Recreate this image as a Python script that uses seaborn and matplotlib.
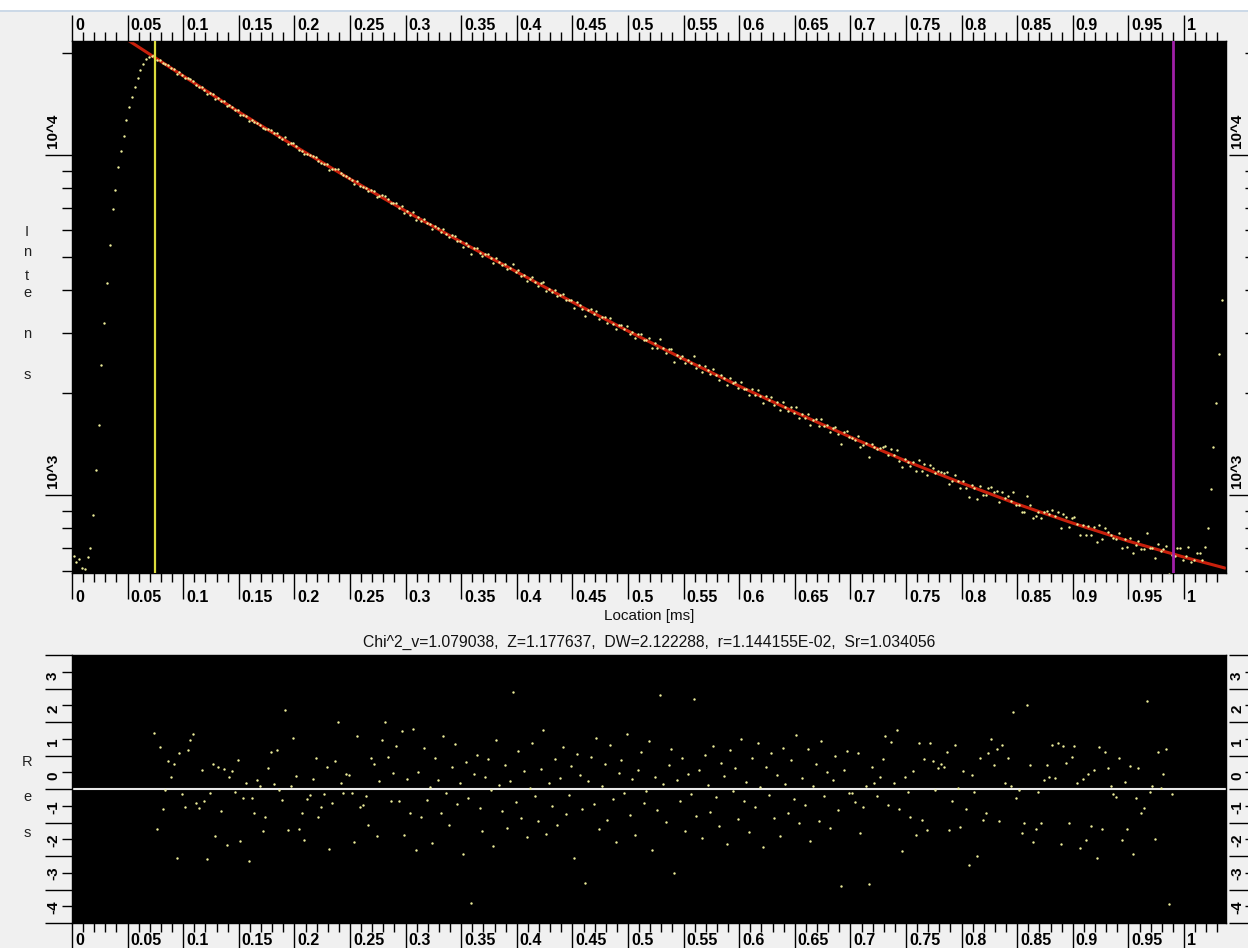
import numpy as np
import pandas as pd
import matplotlib
matplotlib.use("Agg")
import matplotlib.pyplot as plt
import matplotlib.transforms as mtrans
from matplotlib.patches import Rectangle
from matplotlib.lines import Line2D
from matplotlib.ticker import FixedLocator, MultipleLocator, LogLocator, NullFormatter
import seaborn as sns

# ---------------- data ----------------
channel_start_ms = 0.0015
channel_width_ms = 0.0025

intensity_counts = [
    662, 635, 648, 610, 606, 657, 699, 873, 1185, 1607,
    2412, 3205, 4202, 5437, 6937, 7890, 9220, 10270, 11370, 12680,
    13840, 14810, 15850, 16850, 17780, 18520, 19160, 19420, 19550, 19690,
    18987, 19081, 18607, 18455, 18353, 18070, 17900, 17307, 17511, 17140,
    16881, 16894, 16728, 16552, 16092, 15877, 15827, 15520, 15116, 15174,
    15098, 14653, 14725, 14389, 14363, 13922, 13992, 13842, 13603, 13547,
    13112, 13108, 13009, 12595, 12662, 12465, 12434, 12272, 11982, 11891,
    11912, 11829, 11592, 11566, 11308, 11146, 11301, 10799, 10811, 10835,
    10599, 10319, 10251, 10055, 10066, 9967, 9904, 9854, 9572, 9495,
    9427, 9401, 9060, 9088, 9107, 9116, 8845, 8720, 8675, 8575,
    8433, 8209, 8409, 8127, 8043, 7981, 7819, 7912, 7810, 7540,
    7599, 7623, 7587, 7417, 7226, 7219, 7211, 6996, 7093, 6761,
    6825, 6670, 6807, 6441, 6563, 6385, 6483, 6293, 6259, 6061,
    6197, 6081, 5941, 6055, 5862, 5728, 5799, 5790, 5596, 5585,
    5371, 5518, 5383, 5100, 5327, 5315, 5146, 5046, 5110, 5098,
    4979, 4812, 4985, 4842, 4738, 4786, 4609, 4658, 4791, 4522,
    4576, 4397, 4448, 4271, 4323, 4368, 4221, 4129, 4189, 4221,
    3982, 4037, 3952, 4001, 3838, 3887, 3904, 3742, 3739, 3753,
    3549, 3700, 3627, 3531, 3366, 3512, 3521, 3403, 3485, 3294,
    3335, 3340, 3213, 3309, 3186, 3083, 3167, 3157, 3073, 3140,
    2978, 3008, 2889, 2966, 2966, 2857, 2850, 2902, 2703, 2793,
    2713, 2867, 2703, 2619, 2681, 2680, 2468, 2584, 2529, 2569,
    2437, 2498, 2445, 2564, 2369, 2415, 2294, 2392, 2328, 2268,
    2341, 2248, 2185, 2255, 2216, 2102, 2211, 2135, 2148, 2058,
    2149, 2047, 2054, 1969, 2051, 1966, 2034, 1959, 1863, 1952,
    1898, 1936, 1835, 1875, 1780, 1877, 1815, 1761, 1813, 1747,
    1812, 1688, 1729, 1681, 1736, 1610, 1663, 1676, 1593, 1674,
    1594, 1610, 1531, 1575, 1590, 1513, 1412, 1535, 1543, 1482,
    1470, 1447, 1491, 1388, 1406, 1418, 1296, 1417, 1388, 1362,
    1373, 1381, 1395, 1309, 1366, 1310, 1356, 1261, 1207, 1276,
    1250, 1215, 1254, 1178, 1265, 1176, 1230, 1148, 1228, 1200,
    1162, 1175, 1170, 1160, 1166, 1080, 1101, 1149, 1098, 1052,
    1098, 1052, 990, 1069, 1046, 977, 1065, 998, 998, 1048,
    1054, 1022, 1030, 956, 1020, 978, 994, 961, 1022, 936,
    936, 891, 894, 995, 934, 859, 865, 892, 859, 891,
    898, 882, 904, 869, 894, 802, 881, 862, 805, 857,
    860, 824, 764, 818, 761, 811, 763, 805, 726, 814,
    741, 799, 781, 762, 750, 743, 772, 700, 744, 702,
    749, 674, 715, 735, 695, 695, 776, 700, 701, 655,
    719, 687, 693, 709, 585, 666, 660, 699, 699, 644,
    660, 703, 635, 644, 675, 675, 644, 703, 800, 1041,
    1384, 1865, 2600, 3746,
]

residual_first_channel = 29
weighted_residuals = [
    1.67,
    -1.18, 1.24, -0.61, -0.04, 0.84, 0.37, 0.75, -2.06, 1.07, -0.15,
    -0.53, 1.15, 1.45, 1.64, -0.41, -0.56, 0.57, -0.35, -2.1, -0.13,
    0.75, -1.4, 0.67, -0.65, 0.59, -1.66, 0.37, 0.54, -0.08, 0.86,
    -1.54, -0.26, 0.18, -2.15, -0.27, -0.73, 0.28, 0.1, -1.26, -0.83,
    0.62, 1.11, 0.16, 1.15, -0.04, -0.34, 2.35, -1.23, 0.08, 1.51,
    0.4, -1.19, -0.73, -1.53, -0.3, -0.17, 0.31, 0.92, -0.83, -0.53,
    -0.14, 0.67, -1.79, -0.43, 0.83, 1.99, 0.18, -0.11, 0.45, 0.41,
    -0.13, -1.59, 1.59, -0.53, -0.49, -0.21, -1.07, 0.94, 0.74, -1.4,
    0.23, 1.45, 1.99, 0.95, -0.36, 0.47, 1.29, -0.36, 1.72, -1.37,
    0.29, -0.73, 1.8, -1.83, 0.52, -0.85, 1.21, -0.33, 0.07, -1.62,
    0.94, 0.28, -0.71, 1.58, -0.12, -1.07, 0.66, 1.34, -0.45, 0.19,
    -1.93, 0.81, -0.27, -3.4, 0.44, 1.02, -0.58, -1.26, 0.36, 0.91,
    -0.04, -1.71, 1.47, 0.13, -0.66, 0.72, -1.15, 0.25, 2.9, -0.39,
    1.12, -0.88, 0.55, -1.44, 0.02, 1.38, -0.21, -0.97, 0.61, 1.76,
    -1.33, 0.17, -0.52, 0.89, -1.08, 0.33, 1.24, -0.74, -0.18, 0.68,
    -2.05, 1.05, 0.41, -0.61, -2.8, 0.23, 0.97, -0.46, 1.52, -1.19,
    0.08, 0.74, -0.93, 1.31, -0.29, -1.57, 0.49, 0.86, -0.11, 1.65,
    -0.77, 0.31, -1.36, 0.58, 1.09, -0.43, -0.05, 1.43, -1.82, 0.37,
    -0.64, 2.8, 0.15, -0.98, 0.71, 1.18, -2.5, 0.26, -0.35, 0.92,
    -1.24, 0.44, -0.16, 2.7, -0.82, 0.57, -1.47, 1.01, 0.12, -0.69,
    1.27, -0.24, -1.11, 0.79, 0.38, -1.63, 1.15, -0.07, 0.63, -0.91,
    1.49, -0.36, 0.21, -1.29, 0.94, -0.55, 1.36, 0.05, -1.74, 0.67,
    -0.19, 1.08, -0.86, 0.43, -1.41, 1.23, 0.16, -0.73, 0.88, -0.31,
    1.61, -1.02, 0.34, -0.48, 1.19, -1.55, 0.09, 0.76, -0.95, 1.42,
    -0.22, 0.51, -1.17, 0.27, 0.99, -0.63, -2.9, 0.58, 1.13, -0.11,
    -0.11, -0.39, 1.07, -1.31, -0.53, 0.1, -2.85, 0.67, 0.18, -0.21,
    0.37, 0.89, 1.59, -0.48, 1.41, 0.18, 1.76, -0.61, -1.84, 0.37,
    -0.09, -0.83, 0.54, -1.36, 1.37, -0.93, 0.89, -1.23, 1.37, 0.83,
    -0.03, 0.63, 0.74, 0.67, 1.1, -1.23, -0.36, 1.32, 0.04, -1.13,
    0.54, -0.61, -2.28, 0.41, -0.08, -2.01, 0.94, -0.93, -0.73, 1.07,
    1.49, 0.71, 1.19, -0.97, 1.32, 0.19, 0.92, 0.1, 2.29, -0.26,
    -0.03, -1.31, -1.01, 2.51, 0.71, -1.58, -1.19, -0.09, -1.01, 0.27,
    0.71, 0.37, 1.32, 0.33, 1.37, -1.63, 1.27, 0.79, -1.01, 0.97,
    1.27, 0.18, -1.76, 0.31, -1.53, 0.44, -1.1, 0.58, -2.06, 1.24,
    -1.2, 1.1, 0.62, 0.1, -0.16, -0.25, 0.94, -1.53, 0.22, -1.19,
    0.7, -1.93, -0.26, 0.62, -0.73, -0.58, 2.64, -0.08, 0.1, -1.49,
    1.1, 0.04, 0.44, 1.19, -3.42, -0.16,
]

fit_time_ms = [0.05, 0.10, 0.15, 0.20, 0.25, 0.30, 0.35, 0.40, 0.45, 0.50,
               0.55, 0.60, 0.65, 0.70, 0.75, 0.80, 0.85, 0.90, 0.95, 1.00, 1.037]
fit_counts = [21790, 17080, 13380, 10630, 8500, 6843, 5548, 4529, 3695, 3037,
              2512, 2092, 1754, 1481, 1259, 1085, 941, 827, 732, 657, 610]
fit_range_ms = [0.0746, 0.990]

x_tick_values = [0.0, 0.05, 0.1, 0.15, 0.2, 0.25, 0.3, 0.35, 0.4, 0.45, 0.5,
                 0.55, 0.6, 0.65, 0.7, 0.75, 0.8, 0.85, 0.9, 0.95, 1.0]
x_tick_labels = ["0", "0.05", "0.1", "0.15", "0.2", "0.25", "0.3", "0.35", "0.4",
                 "0.45", "0.5", "0.55", "0.6", "0.65", "0.7", "0.75", "0.8",
                 "0.85", "0.9", "0.95", "1"]
y_tick_values = [1000, 10000]
y_tick_labels = ["10^3", "10^4"]
res_tick_values = [-4, -3, -2, -1, 0, 1, 2, 3]
res_tick_labels = ["-4", "-3", "-2", "-1", "0", "1", "2", "3"]
x_label = "Location [ms]"
stats_text = "Chi^2_v=1.079038,  Z=1.177637,  DW=2.122288,  r=1.144155E-02,  Sr=1.034056"
y_label_top = "Intens"
y_label_res = "Res"

# ---------------- frames ----------------
n_ch = len(intensity_counts)
time_ms = channel_start_ms + channel_width_ms * np.arange(n_ch)
df = pd.DataFrame({"time": time_ms, "counts": intensity_counts})
res_time = time_ms[residual_first_channel:residual_first_channel + len(weighted_residuals)]
df_res = pd.DataFrame({"time": res_time, "res": weighted_residuals})
df_fit = pd.DataFrame({"time": fit_time_ms, "counts": fit_counts})

# ---------------- style ----------------
sns.set_style("dark", {"axes.facecolor": "black", "figure.facecolor": "#f0f0f0"})
plt.rcParams["font.family"] = ["Liberation Sans", "DejaVu Sans"]

W, H, DPI = 1248, 948, 100
fig = plt.figure(figsize=(W / DPI, H / DPI), dpi=DPI)
fig.patch.set_facecolor("#f0f0f0")

def pt(px):
    return px * 72.0 / DPI

L_PX, R_PX = 72, 1226
TOP_T, TOP_B = 41, 573
RES_T, RES_B = 655, 923
XMAX = (R_PX - L_PX) / 1112.0

ax = fig.add_axes([L_PX / W, 1 - TOP_B / H, (R_PX - L_PX) / W, (TOP_B - TOP_T) / H])
axr = fig.add_axes([L_PX / W, 1 - RES_B / H, (R_PX - L_PX) / W, (RES_B - RES_T) / H])

DOT = "#eeee9a"
sns.lineplot(data=df_fit, x="time", y="counts", ax=ax, color="#c8200c", lw=2.2,
             estimator=None, sort=False, zorder=2)
sns.scatterplot(data=df, x="time", y="counts", ax=ax, s=3.0, color=DOT,
                linewidth=0, zorder=3, legend=False)
ax.axvline(fit_range_ms[0], color="#dcdc3c", lw=1.6, zorder=4)
ax.axvline(fit_range_ms[1], color="#a020a8", lw=2.0, zorder=4)
ax.set_yscale("log")
ax.set_ylim(590, 21630)

sns.scatterplot(data=df_res, x="time", y="res", ax=axr, s=3.0, color=DOT,
                linewidth=0, zorder=3, legend=False)
axr.axhline(0, color="#e8e8e8", lw=1.5, zorder=2)
axr.set_ylim(-4, 4)

for a in (ax, axr):
    a.set_facecolor("black")
    a.grid(False)
    a.set_xlim(0, XMAX)
    a.set_xlabel("")
    a.set_ylabel("")
    for s in a.spines.values():
        s.set_color("black")
        s.set_linewidth(1)
    a.xaxis.set_major_locator(FixedLocator(x_tick_values))
    a.xaxis.set_minor_locator(MultipleLocator(0.01))
    a.xaxis.set_major_formatter(NullFormatter())
    a.xaxis.set_minor_formatter(NullFormatter())
    a.yaxis.set_major_formatter(NullFormatter())
    a.yaxis.set_minor_formatter(NullFormatter())
    a.tick_params(axis="both", which="major", direction="out", color="black", width=1.0)
    a.tick_params(axis="both", which="minor", direction="out", color="black", width=1.0)
    a.tick_params(axis="x", which="major", length=pt(26))
    a.tick_params(axis="x", which="minor", length=pt(9))
    a.tick_params(axis="y", which="major", length=pt(27), left=True, right=False)
    a.tick_params(axis="y", which="minor", length=pt(10), left=True, right=False)
    a.tick_params(labelleft=False, labelbottom=False, labeltop=False, labelright=False)

ax.tick_params(axis="x", which="both", top=True, bottom=True)
axr.tick_params(axis="x", which="both", top=False, bottom=True)

ax.yaxis.set_major_locator(FixedLocator(y_tick_values))
ax.yaxis.set_minor_locator(LogLocator(base=10, subs=[2, 3, 4, 5, 6, 7, 8, 9], numticks=20))
ax.yaxis.set_minor_formatter(NullFormatter())
axr.yaxis.set_major_locator(FixedLocator(res_tick_values + [4]))
axr.yaxis.set_minor_locator(MultipleLocator(0.5))

# mirrored right-hand scales (axis line just outside the picture)
RIGHT_LINE = 1252
for a, bot, top in ((ax, TOP_B, TOP_T), (axr, RES_B, RES_T)):
    m = fig.add_axes([L_PX / W, 1 - bot / H, (RIGHT_LINE - L_PX) / W, (bot - top) / H])
    m.set_yscale(a.get_yscale())
    m.set_ylim(a.get_ylim())
    m.patch.set_visible(False)
    for s in m.spines.values():
        s.set_visible(False)
    m.xaxis.set_visible(False)
    m.yaxis.tick_right()
    m.yaxis.set_major_locator(a.yaxis.get_major_locator())
    m.yaxis.set_minor_locator(a.yaxis.get_minor_locator())
    m.yaxis.set_major_formatter(NullFormatter())
    m.yaxis.set_minor_formatter(NullFormatter())
    m.tick_params(axis="y", which="major", direction="in", length=pt(23), width=1.0,
                  color="black", labelright=False)
    m.tick_params(axis="y", which="minor", direction="in", length=pt(7), width=1.0,
                  color="black", labelright=False)

# ---------------- tick labels ("|label" style) ----------------
FS_TICK = 11.5
def off(dx, dy):
    return mtrans.ScaledTranslation(dx / DPI, dy / DPI, fig.dpi_scale_trans)

def x_labels(a, yax, dy):
    tr = mtrans.blended_transform_factory(a.transData, a.transAxes)
    for v, s in zip(x_tick_values, x_tick_labels):
        a.text(v, yax, s, transform=tr + off(3, dy), ha="left", va="baseline",
               fontsize=FS_TICK, fontweight="bold", color="black", clip_on=False)

x_labels(ax, 1, 11)
x_labels(ax, 0, -29)
x_labels(axr, 0, -22)

def y_labels(a, vals, labs, dy):
    trl = mtrans.blended_transform_factory(a.transAxes, a.transData)
    for v, s in zip(vals, labs):
        for xa, dx in ((0, -19), (1, 11)):
            a.text(xa, v, s, transform=trl + off(dx, dy), rotation=90, ha="center",
                   va="bottom", fontsize=FS_TICK - 0.5, fontweight="bold",
                   color="black", clip_on=False)

y_labels(ax, y_tick_values, y_tick_labels, 7)
y_labels(axr, res_tick_values, res_tick_labels, 9)

# stacked axis titles
top_letter_y = [232, 252, 276, 293, 334, 375]
for ch, yy in zip(y_label_top, top_letter_y):
    fig.text(27 / W, 1 - yy / H, ch, ha="center", va="center", fontsize=10.5, color="#222222")
res_letter_y = [762, 797, 833]
for ch, yy in zip(y_label_res, res_letter_y):
    fig.text(27 / W, 1 - yy / H, ch, ha="center", va="center", fontsize=10.5, color="#222222")

cx = (L_PX + R_PX) / 2 / W
fig.text(cx, 1 - 616 / H, x_label, ha="center", va="center", fontsize=11, color="#111111")
fig.text(cx, 1 - 642 / H, stats_text, ha="center", va="center", fontsize=11.3, color="#111111")

# window strip at the very top
fig.add_artist(Rectangle((0, 1 - 10 / H), 1, 10 / H, transform=fig.transFigure,
                         facecolor="white", edgecolor="none", zorder=0))
fig.add_artist(Line2D([0, 1], [1 - 10.5 / H, 1 - 10.5 / H], transform=fig.transFigure,
                      color="#c5d5e6", lw=1.2))

fig.savefig("out.png", dpi=DPI, facecolor=fig.get_facecolor())
